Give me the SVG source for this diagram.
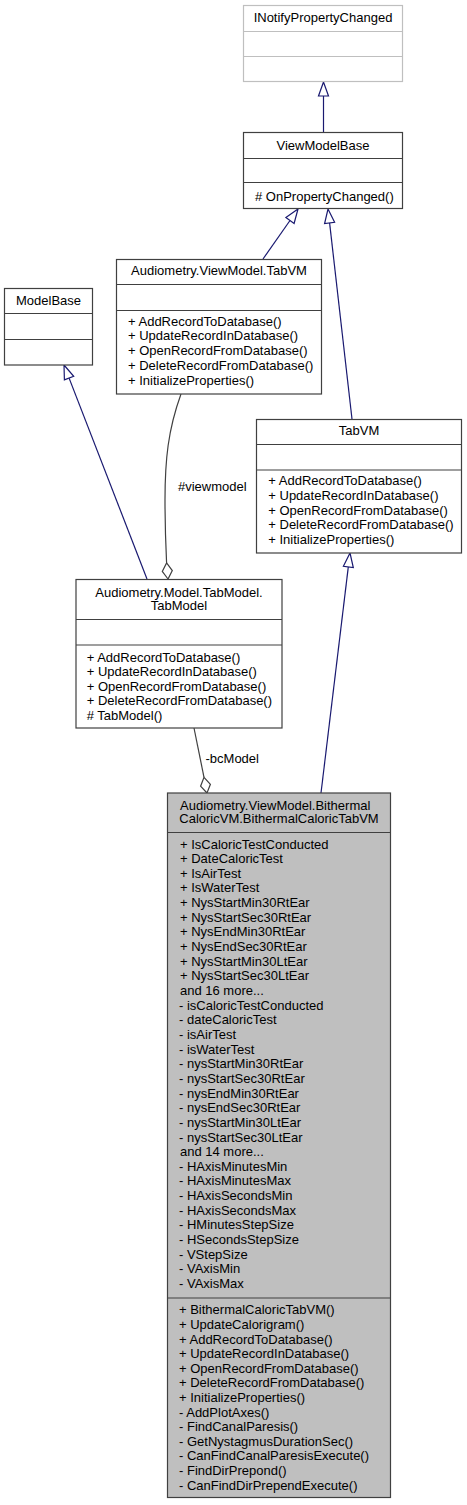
<svg xmlns="http://www.w3.org/2000/svg" width="467" height="1505" viewBox="0 0 467 1505">
<style>
text{font-family:"Liberation Sans",Arial,sans-serif;font-size:13px;fill:#000}
.box{fill:#fff;stroke:#404040;stroke-width:1.2}
.ext{fill:#fff;stroke:#bfbfbf;stroke-width:1.2}
.cur{fill:#bfbfbf;stroke:#404040;stroke-width:1.2}
.sep{stroke:#404040;stroke-width:1.2}
.sepx{stroke:#bfbfbf;stroke-width:1.2}
.c{text-anchor:middle}
.inh{fill:none;stroke:#191970;stroke-width:1.2}
.tri{fill:#fff;stroke:#191970;stroke-width:1.2}
.agg{fill:none;stroke:#404040;stroke-width:1.2}
.dia{fill:#fff;stroke:#404040;stroke-width:1.2}
</style>
<g id="connectors">
  <line class="inh" x1="323.5" y1="132" x2="323.5" y2="96"/>
  <polygon class="tri" points="323.5,82 318.5,96 328.5,96"/>
  <line class="inh" x1="263" y1="259" x2="290" y2="220.5"/>
  <polygon class="tri" points="298,209 294.1,223.4 285.9,217.6"/>
  <line class="inh" x1="352" y1="419" x2="329.6" y2="222.9"/>
  <polygon class="tri" points="328,209 334.6,222.3 324.6,223.5"/>
  <line class="inh" x1="147" y1="579" x2="69.1" y2="378.1"/>
  <polygon class="tri" points="64,365 73.7,376.3 64.4,379.9"/>
  <line class="inh" x1="321" y1="793" x2="348.3" y2="566.9"/>
  <polygon class="tri" points="350,553 353.3,567.5 343.4,566.3"/>
  <path class="agg" d="M181,394 C168,430 165,460 165,500 C165,530 166,550 166.6,563"/>
  <polygon class="dia" points="168,579 162.3,571.4 166.6,563 172.3,570.6"/>
  <text x="178" y="490.5">#viewmodel</text>
  <line class="agg" x1="194" y1="728" x2="204" y2="777.3"/>
  <polygon class="dia" points="207,793 200.6,786.2 204,777.3 210.4,784.3"/>
  <text x="205.5" y="763.3">-bcModel</text>
</g>
<g id="INotifyPropertyChanged">
  <rect class="ext" x="243.5" y="5.5" width="159" height="76"/>
  <line class="sepx" x1="243.5" y1="31.5" x2="402.5" y2="31.5"/>
  <line class="sepx" x1="243.5" y1="56.5" x2="402.5" y2="56.5"/>
  <text class="c" x="323" y="22.3">INotifyPropertyChanged</text>
</g>
<g id="ViewModelBase">
  <rect class="box" x="243.5" y="132.5" width="159" height="76"/>
  <line class="sep" x1="243.5" y1="158.5" x2="402.5" y2="158.5"/>
  <line class="sep" x1="243.5" y1="182.5" x2="402.5" y2="182.5"/>
  <text class="c" x="323" y="150">ViewModelBase</text>
  <text x="255" y="200.7"># OnPropertyChanged()</text>
</g>
<g id="Audiometry.ViewModel.TabVM">
  <rect class="box" x="116.5" y="259.5" width="205" height="134.5"/>
  <line class="sep" x1="116.5" y1="284.5" x2="321.5" y2="284.5"/>
  <line class="sep" x1="116.5" y1="310.5" x2="321.5" y2="310.5"/>
  <text class="c" x="219" y="275">Audiometry.ViewModel.TabVM</text>
  <text x="128" y="325.7">+ AddRecordToDatabase()</text>
  <text x="128" y="340.4">+ UpdateRecordInDatabase()</text>
  <text x="128" y="355.1">+ OpenRecordFromDatabase()</text>
  <text x="128" y="369.8">+ DeleteRecordFromDatabase()</text>
  <text x="128" y="384.5">+ InitializeProperties()</text>
</g>
<g id="ModelBase">
  <rect class="box" x="4.5" y="288.5" width="88" height="76.5"/>
  <line class="sep" x1="4.5" y1="313.5" x2="92.5" y2="313.5"/>
  <line class="sep" x1="4.5" y1="339.5" x2="92.5" y2="339.5"/>
  <text class="c" x="48.5" y="305">ModelBase</text>
</g>
<g id="TabVM">
  <rect class="box" x="256.5" y="419.5" width="205" height="133.5"/>
  <line class="sep" x1="256.5" y1="444.5" x2="461.5" y2="444.5"/>
  <line class="sep" x1="256.5" y1="470" x2="461.5" y2="470"/>
  <text class="c" x="359" y="435">TabVM</text>
  <text x="268.3" y="485">+ AddRecordToDatabase()</text>
  <text x="268.3" y="499.8">+ UpdateRecordInDatabase()</text>
  <text x="268.3" y="514.5">+ OpenRecordFromDatabase()</text>
  <text x="268.3" y="529.2">+ DeleteRecordFromDatabase()</text>
  <text x="268.3" y="544">+ InitializeProperties()</text>
</g>
<g id="Audiometry.Model.TabModel.TabModel">
  <rect class="box" x="76" y="579.5" width="206" height="148.5"/>
  <line class="sep" x1="76" y1="619.5" x2="282" y2="619.5"/>
  <line class="sep" x1="76" y1="645" x2="282" y2="645"/>
  <text class="c" x="179" y="596.7">Audiometry.Model.TabModel.</text>
  <text class="c" x="179" y="609.5">TabModel</text>
  <text x="86.7" y="661.7">+ AddRecordToDatabase()</text>
  <text x="86.7" y="676.2">+ UpdateRecordInDatabase()</text>
  <text x="86.7" y="690.7">+ OpenRecordFromDatabase()</text>
  <text x="86.7" y="705.2">+ DeleteRecordFromDatabase()</text>
  <text x="86.7" y="719.5"># TabModel()</text>
</g>
<g id="Audiometry.ViewModel.BithermalCaloricVM.BithermalCaloricTabVM">
  <rect class="cur" x="167.5" y="793" width="223" height="704.5"/>
  <line class="sep" x1="167.5" y1="832.5" x2="390.5" y2="832.5"/>
  <line class="sep" x1="167.5" y1="1298" x2="390.5" y2="1298"/>
  <text class="c" x="275.2" y="809.5">Audiometry.ViewModel.Bithermal</text>
  <text class="c" x="279" y="823.4">CaloricVM.BithermalCaloricTabVM</text>
  <text x="180" y="848.5">+ IsCaloricTestConducted</text>
  <text x="180" y="863.15">+ DateCaloricTest</text>
  <text x="180" y="877.8">+ IsAirTest</text>
  <text x="180" y="892.45">+ IsWaterTest</text>
  <text x="180" y="907.1">+ NysStartMin30RtEar</text>
  <text x="180" y="921.75">+ NysStartSec30RtEar</text>
  <text x="180" y="936.4">+ NysEndMin30RtEar</text>
  <text x="180" y="951.05">+ NysEndSec30RtEar</text>
  <text x="180" y="965.7">+ NysStartMin30LtEar</text>
  <text x="180" y="980.35">+ NysStartSec30LtEar</text>
  <text x="180" y="995">and 16 more...</text>
  <text x="179" y="1009.65">- isCaloricTestConducted</text>
  <text x="179" y="1024.3">- dateCaloricTest</text>
  <text x="179" y="1038.95">- isAirTest</text>
  <text x="179" y="1053.6">- isWaterTest</text>
  <text x="179" y="1068.25">- nysStartMin30RtEar</text>
  <text x="179" y="1082.9">- nysStartSec30RtEar</text>
  <text x="179" y="1097.55">- nysEndMin30RtEar</text>
  <text x="179" y="1112.2">- nysEndSec30RtEar</text>
  <text x="179" y="1126.85">- nysStartMin30LtEar</text>
  <text x="179" y="1141.5">- nysStartSec30LtEar</text>
  <text x="180" y="1156.15">and 14 more...</text>
  <text x="179" y="1170.8">- HAxisMinutesMin</text>
  <text x="179" y="1185.45">- HAxisMinutesMax</text>
  <text x="179" y="1200.1">- HAxisSecondsMin</text>
  <text x="179" y="1214.75">- HAxisSecondsMax</text>
  <text x="179" y="1229.4">- HMinutesStepSize</text>
  <text x="179" y="1244.05">- HSecondsStepSize</text>
  <text x="179" y="1258.7">- VStepSize</text>
  <text x="179" y="1273.35">- VAxisMin</text>
  <text x="179" y="1288">- VAxisMax</text>
  <text x="179" y="1314.3">+ BithermalCaloricTabVM()</text>
  <text x="179" y="1328.9">+ UpdateCalorigram()</text>
  <text x="179" y="1343.5">+ AddRecordToDatabase()</text>
  <text x="179" y="1358.1">+ UpdateRecordInDatabase()</text>
  <text x="179" y="1372.7">+ OpenRecordFromDatabase()</text>
  <text x="179" y="1387.3">+ DeleteRecordFromDatabase()</text>
  <text x="179" y="1401.9">+ InitializeProperties()</text>
  <text x="179" y="1416.5">- AddPlotAxes()</text>
  <text x="179" y="1431.1">- FindCanalParesis()</text>
  <text x="179" y="1445.7">- GetNystagmusDurationSec()</text>
  <text x="179" y="1460.3">- CanFindCanalParesisExecute()</text>
  <text x="179" y="1474.9">- FindDirPrepond()</text>
  <text x="179" y="1489.5">- CanFindDirPrependExecute()</text>
</g>
</svg>
